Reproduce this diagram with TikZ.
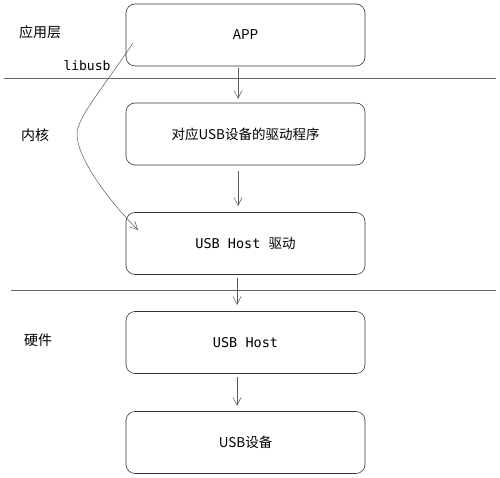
\documentclass[tikz,border=0pt]{standalone}
\usepackage{fontspec}
\usetikzlibrary{arrows.meta}
\newfontfamily\cjk{Noto Sans CJK SC}
\newfontfamily\mono{DejaVu Sans Mono}
\begin{document}
\begin{tikzpicture}[x=1pt,y=-1pt,
  box/.style={draw=black!80, line width=0.6pt, rounded corners=9pt, minimum width=239pt, minimum height=62pt, inner sep=0pt},
  conn/.style={draw=black!65, line width=0.5pt, -{Straight Barb[length=8pt,width=8pt,line width=0.5pt]}},
  sep/.style={draw=black!60, line width=0.7pt},
  lbl/.style={font=\cjk\fontsize{14}{16}\selectfont},
  cjkt/.style={font=\cjk\fontsize{13.5}{16}\selectfont},
  monot/.style={font=\mono\fontsize{13.5}{16}\selectfont}
]
\useasboundingbox (0,0) rectangle (500,478);
\node[box, cjkt] (app) at (245.5,35) {APP};
\node[box, cjkt] (drv) at (245.5,134) {对应USB设备的驱动程序};
\node[box] (hdrv) at (245.5,243.5) {{\mono\fontsize{13.5}{16}\selectfont USB Host }{\cjk\fontsize{13.5}{16}\selectfont 驱动}};
\node[box, monot] (host) at (245.5,342.5) {USB Host};
\node[box, cjkt] (dev) at (245.5,442.5) {USB设备};
\coordinate (l1a) at (4,78); \coordinate (l1b) at (496,78);
\coordinate (l2a) at (11,290); \coordinate (l2b) at (496,290);
\draw[sep] (l1a) -- (l1b);
\draw[sep] (l2a) -- (l2b);
\node[lbl] (t1) at (40,32) {应用层};
\node[lbl] (t2) at (35,135) {内核};
\node[lbl] (t3) at (38,340) {硬件};
\node[font=\mono\fontsize{13}{15}\selectfont] (lib) at (87,66) {libusb};
\draw[conn] (238,68) -- (238,99);
\draw[conn] (238,171) -- (238,206);
\draw[conn] (237,278) -- (237,305);
\draw[conn] (237,377) -- (237,406);
\coordinate (cs) at (133,43);
\coordinate (cm) at (77,134);
\coordinate (ce) at (138,230);
\draw[conn] (cs) .. controls (100,92) and (77,118) .. (cm) .. controls (77,158) and (108,200) .. (ce);
\end{tikzpicture}
\end{document}
